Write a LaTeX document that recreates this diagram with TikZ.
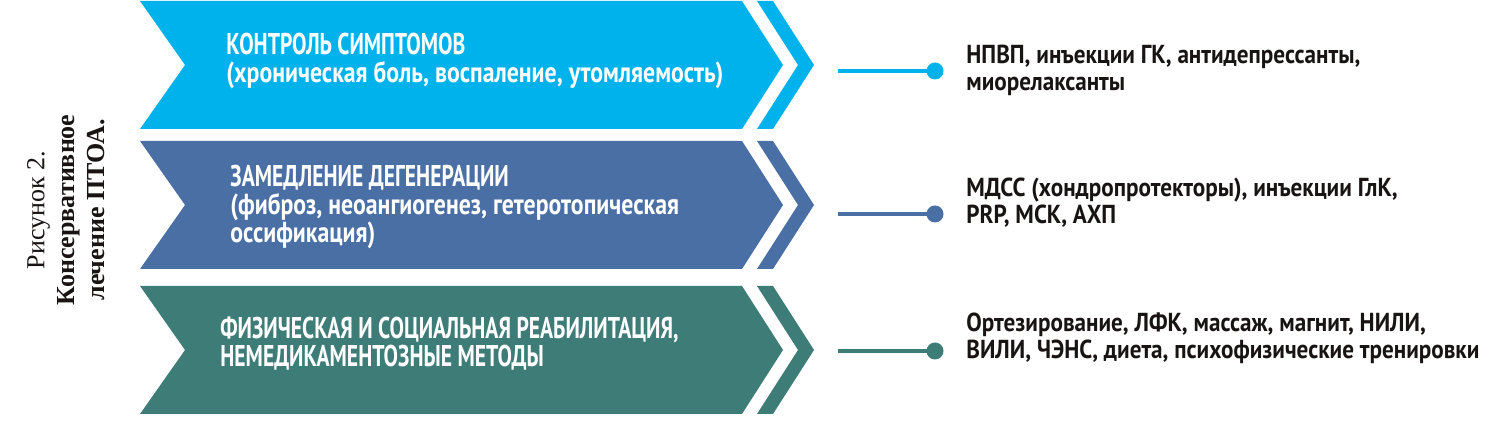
\documentclass[tikz,border=0pt]{standalone}
\usepackage{fontspec}
\setmainfont{Liberation Serif}
\newfontfamily\condw[FakeStretch=0.82]{PT Sans Bold}
\newfontfamily\condwc[FakeStretch=0.72]{PT Sans Bold}
\newfontfamily\condb[FakeStretch=0.89]{PT Sans Bold}
\definecolor{cblue}{RGB}{0,178,236}
\definecolor{csteel}{RGB}{74,111,165}
\definecolor{cteal}{RGB}{62,125,119}
\definecolor{ctext}{RGB}{25,20,20}
\newcommand{\capsline}[1]{{\condwc\fontsize{15}{14}\selectfont #1}}
\tikzset{
  chev/.style={fill=#1},
  headtext/.style={anchor=base west, align=left, inner sep=0pt, text=white, font=\condw\fontsize{14.5}{14}\selectfont},
  listtext/.style={anchor=base west, align=left, inner sep=0pt, text=ctext, font=\condb\fontsize{13}{13.5}\selectfont},
  conn/.style={draw=#1, line width=2pt},
  dotnode/.style={circle, fill=#1, inner sep=0pt, minimum size=8.5pt},
}
\newcommand{\chevrow}[3]{%
  \path[chev=#3] (140,#1) -- (742,#1) -- (783,{(#1+#2)/2}) -- (742,#2) -- (140,#2) -- (185,{(#1+#2)/2}) -- cycle;
  \path[chev=#3] (757,#1) -- (773,#1) -- (814,{(#1+#2)/2}) -- (773,#2) -- (757,#2) -- (798,{(#1+#2)/2}) -- cycle;
}
\begin{document}
\begin{tikzpicture}[x=0.5pt,y=-0.5pt]
\useasboundingbox (0,0) rectangle (1500,431);
\fill[white] (0,0) rectangle (1500,431);

\chevrow{1}{129}{cblue}
\chevrow{141}{269}{csteel}
\chevrow{286}{414}{cteal}

% anchors: baseline of the last line
\node[headtext] (h1) at (226,83) {\capsline{КОНТРОЛЬ СИМПТОМОВ}\\(хроническая боль, воспаление, утомляемость)};
\node[headtext] (h2) at (230,243) {\capsline{ЗАМЕДЛЕНИЕ ДЕГЕНЕРАЦИИ}\\(фиброз, неоангиогенез, гетеротопическая\\оссификация)};
\node[headtext] (h3) at (220,367) {\capsline{ФИЗИЧЕСКАЯ И СОЦИАЛЬНАЯ РЕАБИЛИТАЦИЯ,}\\\capsline{НЕМЕДИКАМЕНТОЗНЫЕ МЕТОДЫ}};

\coordinate (s1) at (838,71);
\coordinate (s2) at (838,214);
\coordinate (s3) at (838,351);
\node[dotnode=cblue] (d1) at (935,71) {};
\node[dotnode=csteel] (d2) at (935,214) {};
\node[dotnode=cteal] (d3) at (935,351) {};
\draw[conn=cblue] (s1) -- (d1.center);
\draw[conn=csteel] (s2) -- (d2.center);
\draw[conn=cteal] (s3) -- (d3.center);

\node[listtext] (t1) at (966,91) {НПВП, инъекции ГК, антидепрессанты,\\миорелаксанты};
\node[listtext] (t2) at (966,224) {МДСС (хондропротекторы), инъекции ГлК,\\PRP, МСК, АХП};
\node[listtext] (t3) at (966,359) {Ортезирование, ЛФК, массаж, магнит, НИЛИ,\\ВИЛИ, ЧЭНС, диета, психофизические тренировки};

\node[rotate=90, align=center, inner sep=0pt, text=ctext, font=\fontsize{13}{15}\selectfont] (cap) at (66,210)
  {Рисунок 2.\\\textbf{Консервативное}\\\textbf{лечение ПТОА.}};
\end{tikzpicture}
\end{document}
